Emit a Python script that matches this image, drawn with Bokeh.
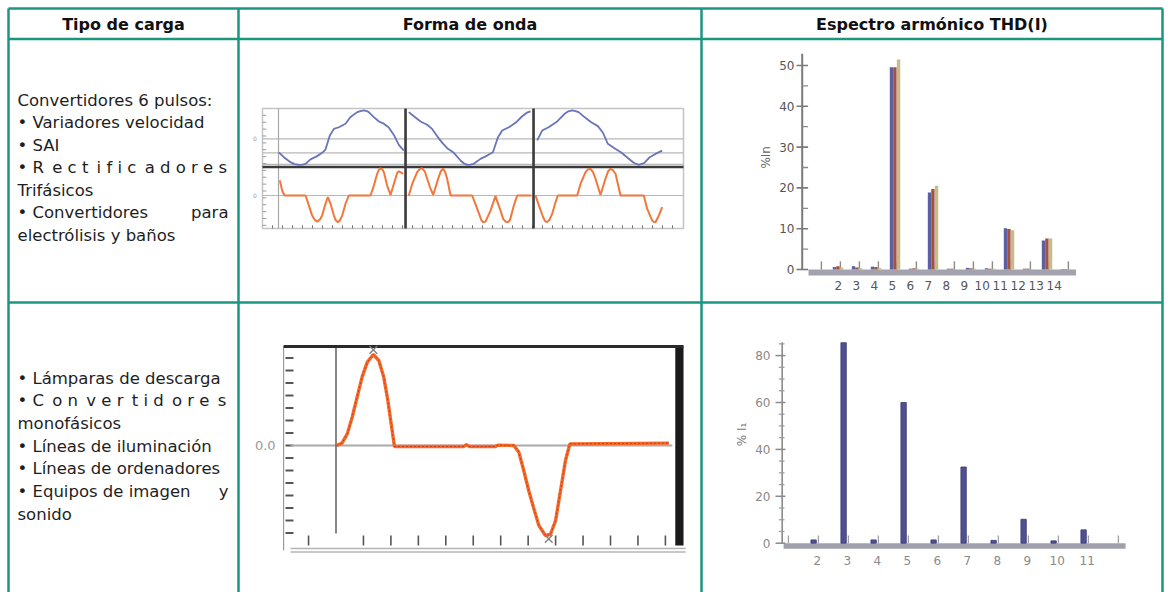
from bokeh.plotting import figure
from bokeh.models import Range1d
from bokeh.core.properties import value
from bokeh.embed import file_html
from bokeh.resources import INLINE

# ------------------------------------------------------------------ data
HEADERS = ["Tipo de carga", "Forma de onda", "Espectro armónico THD(I)"]

EN = "\u2002"
ROW1_LINES = [
    "Convertidores 6 pulsos:",
    "• Variadores velocidad",
    "• SAI",
    "• R" + EN + "e c t" + EN + "i f i c" + EN + "a d o r e s",
    "Trifásicos",
    ("• Convertidores", "para"),
    "electrólisis y baños",
]
ROW2_LINES = [
    "• Lámparas de descarga",
    "• C" + EN + "o n" + EN + "v e r" + EN + "t i d" + EN + "o r e" + EN + "s",
    "monofásicos",
    "• Líneas de iluminación",
    "• Líneas de ordenadores",
    ("• Equipos de imagen", "y"),
    "sonido",
]

# waveform 1: three phases (time in ms, per-unit values)
W1_V_T = [
    [0.05, 0.83, 1.88, 2.5, 3.18, 3.8, 4.22, 5.0, 6.04, 6.82, 7.34, 8.02, 8.65, 9.43, 10.47, 11.25, 12.3, 12.8, 13.33, 13.8, 14.1, 14.9, 15.7, 16.45, 17.2, 18.0, 18.8, 19.58],
    [20.36, 21.15, 22.19, 23.23, 24.0, 24.8, 25.6, 26.36, 27.4, 28.44, 29.0, 29.5, 30.0, 30.5, 31.56, 32.6, 33.5, 34.3, 34.95, 36.0, 37.03, 38.08, 38.8, 39.38],
    [40.42, 41.2, 42.2, 43.55, 44.7, 45.3, 45.9, 46.4, 46.9, 47.8, 48.86, 49.9, 50.7, 51.45, 52.5, 53.5, 54.6, 55.5, 56.3, 57.2, 58.0, 58.9, 59.95],
]
W1_V = [
    [-0.49, -0.67, -0.85, -0.92, -0.95, -0.94, -0.91, -0.75, -0.63, -0.51, -0.39, 0.12, 0.36, 0.42, 0.55, 0.79, 0.97, 1.01, 1.03, 1.01, 0.97, 0.79, 0.63, 0.55, 0.42, 0.15, -0.22, -0.43],
    [0.97, 0.82, 0.63, 0.51, 0.36, 0.09, -0.15, -0.34, -0.51, -0.79, -0.90, -0.95, -0.94, -0.91, -0.73, -0.61, -0.49, 0.06, 0.30, 0.42, 0.58, 0.82, 0.95, 1.0],
    [-0.06, 0.30, 0.42, 0.63, 0.91, 1.0, 1.03, 1.01, 0.97, 0.79, 0.60, 0.46, 0.22, -0.18, -0.34, -0.49, -0.70, -0.87, -0.95, -0.87, -0.67, -0.55, -0.43],
]
W1_I_T = [
    [0.21, 0.57, 0.94, 4.22, 4.74, 5.26, 5.65, 6.04, 6.45, 6.82, 7.34, 7.71, 8.13, 8.65, 8.95, 9.27, 9.6, 9.95, 10.47, 10.99,
     14.38, 14.9, 15.42, 15.68, 15.94, 16.2, 16.46, 16.98, 17.5, 18.02, 18.54, 18.8, 19.06, 19.48],
    [20.36, 20.89, 21.67, 22.05, 22.45, 22.85, 23.23, 23.7, 24.17, 24.95, 25.35, 25.73, 26.05, 26.35, 26.88,
     30.26, 31.04, 31.72, 32.0, 32.34, 33.13, 33.9, 34.69, 35.1, 35.47, 35.8, 36.15, 36.77, 37.29, 39.5],
    [40.16, 40.68, 41.35, 41.65, 41.98, 42.35, 42.76, 43.28, 43.65, 46.67, 47.19, 47.97, 48.35, 48.75, 49.15, 49.53,
     50.31, 51.09, 51.5, 51.88, 52.25, 52.66, 53.44, 57.08, 57.6, 58.39, 58.65, 58.91, 59.43, 59.95],
]
W1_I = [
    [0.55, 0.18, 0.0, 0.0, -0.36, -0.73, -0.88, -0.95, -0.88, -0.73, -0.30, -0.06, -0.30, -0.73, -0.90, -0.97, -0.90, -0.73, -0.30, 0.0,
     0.0, 0.36, 0.79, 0.93, 0.99, 0.96, 0.85, 0.36, 0.02, 0.42, 0.82, 0.88, 0.85, 0.79],
    [0.0, 0.42, 0.85, 0.96, 0.99, 0.88, 0.61, 0.28, 0.02, 0.61, 0.88, 0.97, 0.85, 0.61, 0.0,
     0.0, -0.48, -0.91, -0.97, -0.95, -0.55, -0.02, -0.55, -0.85, -0.95, -0.97, -0.91, -0.36, 0.0, 0.0],
    [0.0, -0.36, -0.79, -0.93, -0.97, -0.88, -0.67, -0.24, 0.0, 0.0, 0.42, 0.85, 0.95, 0.97, 0.85, 0.61,
     0.02, 0.61, 0.88, 0.97, 0.92, 0.79, 0.0, 0.0, -0.48, -0.91, -0.96, -0.97, -0.73, -0.42],
]

# waveform 2: single-phase load current (time divisions, amplitude divisions)
W2_T = [0.02, 0.22, 0.41, 0.59, 0.77, 0.95, 1.14, 1.36, 1.56, 1.74, 1.89, 2.01, 2.13, 4.66, 4.75, 4.85,
        5.81, 5.9, 6.48, 6.66, 6.84, 7.02, 7.21, 7.39, 7.63, 7.81, 8.0, 8.18, 8.36, 8.52, 12.13]
W2_Y = [0.0, 0.19, 0.93, 2.27, 3.87, 5.47, 6.67, 7.28, 6.8, 5.47, 3.6, 1.73, -0.08, -0.08, 0.08, -0.08,
        -0.08, 0.03, 0.0, -0.53, -2.0, -3.6, -5.07, -6.4, -7.2, -7.12, -6.0, -3.6, -1.2, 0.13, 0.19]
W2_MARK_T = [1.36, 7.75]
W2_MARK_Y = [7.65, -7.47]
W2_LABEL = "0.0"

# spectrum 1: 6-pulse converter, three phases
S1_HARM = [1, 2, 3, 4, 5, 6, 7, 8, 9, 10, 11, 12, 13, 14]
S1_BLUE = [0.0, 0.6, 0.8, 0.7, 49.6, 0.2, 18.9, 0.2, 0.4, 0.3, 10.1, 0.2, 7.1, 0.1]
S1_RED = [0.0, 0.8, 0.5, 0.6, 49.6, 0.3, 19.7, 0.2, 0.3, 0.2, 9.9, 0.2, 7.6, 0.1]
S1_OLIVE = [0.0, 0.5, 0.3, 0.4, 51.5, 0.2, 20.5, 0.1, 0.2, 0.2, 9.6, 0.1, 7.6, 0.1]
S1_YTICKS = [0, 10, 20, 30, 40, 50]
S1_XLABELS = ["2", "3", "4", "5", "6", "7", "8", "9", "10", "11", "12", "13", "14"]
S1_YLABEL = "%In"

# spectrum 2: single-phase loads
S2_HARM = [2, 3, 4, 5, 6, 7, 8, 9, 10, 11]
S2_VALS = [1.4, 85.5, 1.4, 60.0, 1.4, 32.5, 1.2, 10.2, 1.0, 5.7]
S2_YTICKS = [0, 20, 40, 60, 80]
S2_XLABELS = ["2", "3", "4", "5", "6", "7", "8", "9", "10", "11"]
S2_YLABEL = "% I\u2081"

# ------------------------------------------------------------------ figure
W, H = 1168, 592
TEAL = "#1b9681"
FONT = value("DejaVu Sans")
BODY_SIZE = "16.5px"

p = figure(width=W, height=H, x_range=Range1d(0, W), y_range=Range1d(H, 0),
           output_backend="svg", toolbar_location=None, min_border=0,
           x_axis_type=None, y_axis_type=None)
p.outline_line_color = None
p.background_fill_color = "white"
p.border_fill_color = "white"


def xmap(name, d0, p0, d1, p1):
    k = (p1 - p0) / (d1 - d0)
    p.extra_x_ranges[name] = Range1d(d0 - p0 / k, d0 + (W - p0) / k)


def ymap(name, d0, p0, d1, p1):
    s0, s1 = H - p0, H - p1
    k = (s1 - s0) / (d1 - d0)
    p.extra_y_ranges[name] = Range1d(d0 - s0 / k, d0 + (H - s0) / k)


# ---- table
p.segment(x0=[8, 8, 8, 8, 238, 701, 1162], y0=[8, 38.5, 302, 8, 8, 8, 8],
          x1=[1162, 1162, 1162, 8, 238, 701, 1162], y1=[8, 38.5, 302, 592, 592, 592, 592],
          line_color=TEAL, line_width=2.5)
p.text(x=[123, 469.5, 931.5], y=[24, 24, 24], text=HEADERS, text_font=FONT,
       text_font_style="bold", text_font_size="16px", text_align="center",
       text_baseline="middle", text_color="#111111")


def body(lines, y0, dy):
    xs, ys, ts, rx, ry, rt = [], [], [], [], [], []
    for i, ln in enumerate(lines):
        y = y0 + i * dy
        if isinstance(ln, tuple):
            xs.append(17); ys.append(y); ts.append(ln[0])
            rx.append(228); ry.append(y); rt.append(ln[1])
        else:
            xs.append(17); ys.append(y); ts.append(ln)
    p.text(x=xs, y=ys, text=ts, text_font=FONT, text_font_size=BODY_SIZE,
           text_baseline="alphabetic", text_align="left", text_color="#1e1e1e")
    p.text(x=rx, y=ry, text=rt, text_font=FONT, text_font_size=BODY_SIZE,
           text_baseline="alphabetic", text_align="right", text_color="#1e1e1e")


body(ROW1_LINES, 99.5, 22.5)
body(ROW2_LINES, 377.5, 22.67)

# ---- waveform 1
xmap("w1x", 0, 278, 20, 406)
ymap("w1v", 0, 138.3, 1, 110.8)
ymap("w1i", 0, 195, 1, 167.5)
R1 = dict(x_range_name="w1x", y_range_name="w1v")
RI = dict(x_range_name="w1x", y_range_name="w1i")
T0, T1, VT, VB = -2.5, 63.28, 1.102, -3.262
p.quad(left=[T0], right=[T1], top=[VT], bottom=[VB], fill_color=None,
       line_color="#c4c4c4", line_width=1.5, **R1)
lt = [VT - 0.25 * k for k in range(1, 18)]
p.segment(x0=[T0] * len(lt), x1=[T0 + 0.6] * len(lt), y0=lt, y1=lt, line_color="#9a9a9a", line_width=1, **R1)
bt = [T0 + 1.5625 * k for k in range(1, 42)]
p.segment(x0=bt, x1=bt, y0=[VB] * len(bt), y1=[VB + 0.12] * len(bt), line_color="#777777", line_width=1, **R1)
p.segment(x0=[T0, T0, T0], x1=[T1, T1, T1], y0=[0, -0.51, -0.93], y1=[0, -0.51, -0.93],
          line_color="#b8b8b8", line_width=1.2, **R1)
p.segment(x0=[T0], x1=[T1], y0=[0], y1=[0], line_color="#b8b8b8", line_width=1.2, **RI)
p.segment(x0=[0], x1=[0], y0=[VT], y1=[VB], line_color="#a8a8a8", line_width=1.2, **R1)
p.segment(x0=[T0, 19.85, 39.85], x1=[T1, 19.85, 39.85], y0=[-1.025, VT, VT], y1=[-1.025, VB, VB],
          line_color="#3a3a3a", line_width=2.6, **R1)
p.text(x=[-3.4], y=[0], text=["0"], text_font=FONT, text_font_size="6px", text_align="right",
       text_baseline="middle", text_color="#999999", **R1)
p.text(x=[-3.4], y=[0], text=["0"], text_font=FONT, text_font_size="6px", text_align="right",
       text_baseline="middle", text_color="#999999", **RI)
p.multi_line(xs=W1_V_T, ys=W1_V, line_color="#6a74b8", line_width=1.8, **R1)
p.multi_line(xs=W1_I_T, ys=W1_I, line_color="#f2773a", line_width=2.0, **RI)

# ---- waveform 2
xmap("w2x", 0, 335.5, 1, 362.95)
ymap("w2y", 0, 445, 1, 432.5)
R2 = dict(x_range_name="w2x", y_range_name="w2y")
p.segment(x0=[-1.91], x1=[-1.91], y0=[7.92], y1=[-8.4], line_color="#9a9a9a", line_width=1.2, **R2)
p.segment(x0=[-1.66, -1.66], x1=[12.74, 12.74], y0=[-8.24, -8.52], y1=[-8.24, -8.52],
          line_color="#b4b4b4", line_width=1.5, **R2)
yt = [k for k in range(-7, 8)]
p.segment(x0=[-1.84] * len(yt), x1=[-1.55] * len(yt), y0=yt, y1=yt, line_color="#555555", line_width=2, **R2)
xt = [-1] + list(range(1, 13))
p.segment(x0=xt, x1=xt, y0=[-7.2] * len(xt), y1=[-8.0] * len(xt), line_color="#555555", line_width=1.6, **R2)
p.segment(x0=[-1.66], x1=[12.25], y0=[0], y1=[0], line_color="#aaaaaa", line_width=2, **R2)
p.segment(x0=[0], x1=[0], y0=[7.92], y1=[-7.04], line_color="#6a6a6a", line_width=1.6, **R2)
p.quad(left=[12.36], right=[12.66], top=[7.92], bottom=[-8.0], fill_color="#1a1a1a", line_color=None, **R2)
p.segment(x0=[-1.91], x1=[12.66], y0=[7.92], y1=[7.92], line_color="#2a2a2a", line_width=3, **R2)
p.text(x=[-2.2], y=[0], text=[W2_LABEL], text_font=FONT, text_font_size="13px", text_align="right",
       text_baseline="middle", text_color="#9a9a9a", **R2)
p.line(W2_T, W2_Y, line_color="#f26b2a", line_width=3.4, **R2)
p.line(W2_T, W2_Y, line_color="#d8341c", line_width=1, line_dash="2 2", **R2)
p.scatter(W2_MARK_T, W2_MARK_Y, marker="x", size=11, line_color="#808080", line_width=1.3, **R2)

# ---- spectrum 1
xmap("s1x", 0, 800, 1, 819)
xmap("s1lx", 0, 801.7, 1, 819.7)
ymap("s1y", 0, 269, 10, 228.2)
S1 = dict(x_range_name="s1x", y_range_name="s1y")
p.quad(left=[0.42], right=[14.5], top=[0], bottom=[-1.5], fill_color="#a3a3b0", line_color=None, **S1)
sx = [h + 0.1 for h in S1_HARM]
p.segment(x0=sx, x1=sx, y0=[0] * len(sx), y1=[2.0] * len(sx), line_color="#8a8a8a", line_width=1.4, **S1)
p.vbar(x=[h - 0.21 for h in S1_HARM], top=S1_BLUE, bottom=0, width=0.18, fill_color="#5c5fa0", line_color=None, **S1)
p.vbar(x=[h - 0.03 for h in S1_HARM], top=S1_RED, bottom=0, width=0.18, fill_color="#a8503e", line_color=None, **S1)
p.vbar(x=[h + 0.16 for h in S1_HARM], top=S1_OLIVE, bottom=0, width=0.18, fill_color="#c4bd88", line_color=None, **S1)
p.segment(x0=[0.09], x1=[0.09], y0=[0], y1=[52.9], line_color="#7a7a7a", line_width=2, **S1)
p.segment(x0=[-0.21] * len(S1_YTICKS), x1=[0.4] * len(S1_YTICKS), y0=S1_YTICKS, y1=S1_YTICKS,
          line_color="#7a7a7a", line_width=1.6, **S1)
mt = [v + 5 for v in S1_YTICKS[:-1]]
p.segment(x0=[0.09] * len(mt), x1=[0.4] * len(mt), y0=mt, y1=mt, line_color="#8a8a8a", line_width=1.3, **S1)
p.text(x=[-0.32] * len(S1_YTICKS), y=S1_YTICKS, text=[str(v) for v in S1_YTICKS], text_font=FONT,
       text_font_size="12px", text_align="right", text_baseline="middle", text_color="#555555", **S1)
p.text(x=[int(s) for s in S1_XLABELS], y=[-3.9] * len(S1_XLABELS), text=S1_XLABELS, text_font=FONT,
       text_font_size="12px", text_align="center", text_baseline="middle", text_color="#555555",
       x_range_name="s1lx", y_range_name="s1y")
p.text(x=[-1.84], y=[27.5], text=[S1_YLABEL], angle=1.5708, text_font=FONT, text_font_size="12px",
       text_align="center", text_baseline="middle", text_color="#666666", **S1)

# ---- spectrum 2
xmap("s2x", 0, 756.7, 1, 786.7)
ymap("s2y", 0, 542.7, 20, 495.8)
S2 = dict(x_range_name="s2x", y_range_name="s2y")
p.quad(left=[0.88], right=[12.28], top=[0], bottom=[-2.4], fill_color="#a0a0ac", line_color=None, **S2)
st = [h + 0.04 for h in range(1, 13)]
p.segment(x0=st, x1=st, y0=[0] * len(st), y1=[3.3] * len(st), line_color="#a0a0a0", line_width=1.3, **S2)
p.vbar(x=[h - 0.12 for h in S2_HARM], top=S2_VALS, bottom=0, width=0.18, fill_color="#50508f",
       line_color="#3a3a78", line_width=0.8, **S2)
p.segment(x0=[0.833], x1=[0.833], y0=[0], y1=[85.7], line_color="#8a8a8a", line_width=1.6, **S2)
p.segment(x0=[0.61] * len(S2_YTICKS), x1=[0.94] * len(S2_YTICKS), y0=S2_YTICKS, y1=S2_YTICKS,
          line_color="#8a8a8a", line_width=1.5, **S2)
m2 = [v for v in range(5, 86, 5) if v % 20 != 0]
p.segment(x0=[0.72] * len(m2), x1=[0.91] * len(m2), y0=m2, y1=m2, line_color="#9a9a9a", line_width=1.2, **S2)
p.text(x=[0.44] * len(S2_YTICKS), y=S2_YTICKS, text=[str(v) for v in S2_YTICKS], text_font=FONT,
       text_font_size="12px", text_align="right", text_baseline="middle", text_color="#8a8a8a", **S2)
p.text(x=[int(s) for s in S2_XLABELS], y=[-7.4] * len(S2_XLABELS), text=S2_XLABELS, text_font=FONT,
       text_font_size="12px", text_align="center", text_baseline="middle", text_color="#8a8a8a", **S2)
p.text(x=[-0.52], y=[46.4], text=[S2_YLABEL], angle=1.5708, text_font=FONT, text_font_size="12px",
       text_align="center", text_baseline="middle", text_color="#777777", **S2)

open("out.html", "w").write(file_html(p, INLINE))
